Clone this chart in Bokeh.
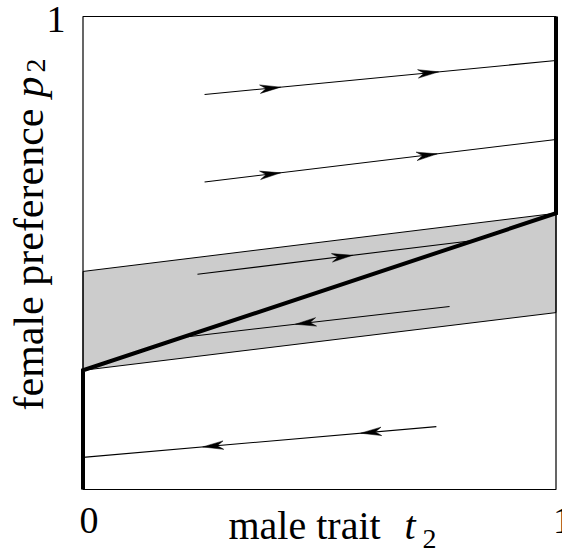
import numpy as np
from bokeh.plotting import figure
from bokeh.models import Range1d, Label, BoxAnnotation
from bokeh.embed import file_html
from bokeh.resources import INLINE

# ---- data (unit square: x = male trait t2, y = female preference p2) ----
band_x = [0.0, 1.0, 1.0, 0.0]
band_y = [0.252, 0.374, 0.584, 0.461]

thick_x = [0.0, 0.0, 1.0, 1.0]
thick_y = [0.0, 0.252, 0.584, 1.0]

# trajectories: start/end points
traj_x0 = [0.257, 0.257, 0.242, 0.775, 0.747]
traj_y0 = [0.835, 0.650, 0.455, 0.387, 0.133]
traj_x1 = [1.0, 1.0, 0.826, 0.221, 0.0]
traj_y1 = [0.907, 0.740, 0.5265, 0.323, 0.068]

# arrow tips: (trajectory index, x of tip); direction follows trajectory start->end
arrow_traj = [0, 0, 1, 1, 2, 3, 4, 4]
arrow_x = [0.418, 0.752, 0.418, 0.749, 0.570, 0.449, 0.587, 0.253]

tick_labels = ["0", "1", "1"]

font = "Liberation Serif"

# the unit square occupies pixels x 82.5..555.5, y 16..489 of the 562x553 canvas
S = 473.0
X0, Y0 = 82.5, 489.0
W_, H_ = 562, 553
p = figure(width=W_, height=H_, output_backend="svg", toolbar_location=None,
           x_range=Range1d(-X0 / S, (W_ - X0) / S),
           y_range=Range1d((Y0 - H_) / S, Y0 / S),
           min_border=0)
p.xaxis.visible = False
p.yaxis.visible = False
p.xgrid.visible = False
p.ygrid.visible = False
p.outline_line_color = None
p.background_fill_color = "white"
p.border_fill_color = "white"

# grey band
p.patch(band_x, band_y, fill_color="#cccccc", line_color="black", line_width=1)

# box
p.add_layout(BoxAnnotation(left=0, right=1, bottom=0, top=1, fill_alpha=0,
                           line_color="black", line_width=1.2, line_alpha=1))

# trajectories
p.segment(traj_x0, traj_y0, traj_x1, traj_y1, line_color="black", line_width=1.1)

# arrowheads
L, W, N = 0.044, 0.009, 0.013
xs, ys = [], []
for ti, tx in zip(arrow_traj, arrow_x):
    x0, y0, x1, y1 = traj_x0[ti], traj_y0[ti], traj_x1[ti], traj_y1[ti]
    ty = y0 + (tx - x0) * (y1 - y0) / (x1 - x0)
    d = np.array([x1 - x0, y1 - y0])
    d = d / np.linalg.norm(d)
    n = np.array([-d[1], d[0]])
    tip = np.array([tx, ty])
    b1 = tip - L * d + W * n
    b2 = tip - L * d - W * n
    nc = tip - (L - N) * d
    pts = [tip, b1, nc, b2]
    xs.append([q[0] for q in pts])
    ys.append([q[1] for q in pts])
p.patches(xs, ys, fill_color="black", line_color="black", line_width=0.5)

# thick line
p.line(thick_x, thick_y, line_color="black", line_width=4, line_join="miter")

# ---- text ----
def lab(x, y, t, size="38px", style="normal", align="left", baseline="alphabetic", angle=0.0):
    p.add_layout(Label(x=x, y=y, text=t, text_font=font, text_font_size=size,
                       text_font_style=style, text_align=align, text_baseline=baseline,
                       angle=angle, text_color="black"))

px = lambda v: (v - X0) / S
py = lambda v: (Y0 - v) / S

lab(px(88.5), py(520), tick_labels[0], align="center")
lab(px(562), py(520), tick_labels[1], align="center")
lab(px(55.5), py(19), tick_labels[2], align="center")

lab(px(228), py(525), "male trait", size="40px")
lab(px(404), py(525), "t", size="40px", style="italic")
lab(px(422), py(538), "2", size="28px")

lab(px(28), py(410), "female preference", size="42px", angle=np.pi / 2)
lab(px(28), py(97), "p", size="42px", style="italic", angle=np.pi / 2)
lab(px(35), py(72), "2", size="28px", angle=np.pi / 2)

open("out.html", "w").write(file_html(p, INLINE))
